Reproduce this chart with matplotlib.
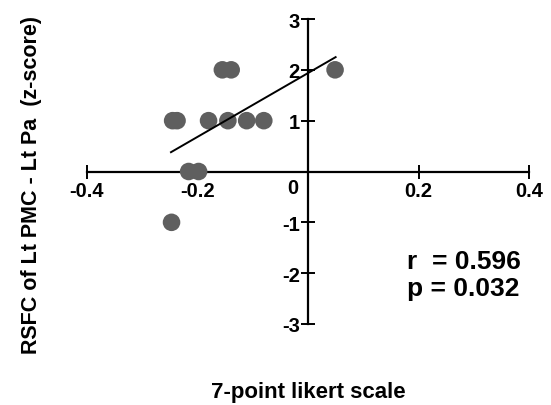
import matplotlib
matplotlib.use("Agg")
import matplotlib.pyplot as plt

plt.rcParams['font.family'] = ['Liberation Sans', 'DejaVu Sans']
plt.rcParams['font.weight'] = 'bold'

# Data
likert = [-0.155, -0.139, 0.049, -0.245, -0.237, -0.180, -0.145, -0.111, -0.080, -0.216, -0.198, -0.247]
rsfc = [2, 2, 2, 1, 1, 1, 1, 1, 1, 0, 0, -1]
fit_x = [-0.248, 0.050]
fit_y = [0.38, 2.25]
x_ticks = [-0.4, -0.2, 0.2, 0.4]
x_tick_labels = ['-0.4', '-0.2', '0.2', '0.4']
y_ticks = [-3, -2, -1, 1, 2, 3]
y_tick_labels = ['-3', '-2', '-1', '1', '2', '3']
stats_text = "r  = 0.596\np = 0.032"

fig = plt.figure(figsize=(5.51, 4.06), dpi=100)
W, H = 551, 406
x0, x1 = 87, 529
y_top, y_bot = 20, 325
ax = fig.add_axes([x0 / W, 1 - y_bot / H, (x1 - x0) / W, (y_bot - y_top) / H])
ax.set_xlim(-0.4, 0.4)
ax.set_ylim(-3, 3)

ax.scatter(likert, rsfc, s=160, color='#5f5f5f', edgecolors='none', zorder=3)
ax.plot(fit_x, fit_y, color='black', lw=1.4, zorder=4)

for s in ['top', 'right']:
    ax.spines[s].set_visible(False)
ax.spines['left'].set_position(('data', 0))
ax.spines['bottom'].set_position(('data', 0))
ax.spines['left'].set_linewidth(1.6)
ax.spines['bottom'].set_linewidth(1.6)

ax.set_xticks(x_ticks)
ax.set_xticklabels(x_tick_labels, fontsize=14.5, fontweight='bold')
ax.set_yticks(y_ticks)
ax.set_yticklabels(y_tick_labels, fontsize=14.5, fontweight='bold')
ax.tick_params(axis='both', direction='inout', length=10, width=1.4)
ax.tick_params(axis='x', pad=2)
ax.tick_params(axis='y', pad=1)
ax.text(-0.018, -0.12, '0', ha='right', va='top', fontsize=14.5, fontweight='bold')

fig.text(308 / W, 1 - 393 / H, '7-point likert scale', ha='center', va='center',
         fontsize=16, fontweight='bold')
fig.text(32 / W, 1 - 185 / H, 'RSFC of Lt PMC - Lt Pa  (z-score)', ha='center', va='center',
         rotation=90, fontsize=15.5, fontweight='bold')
fig.text(407 / W, 1 - 250 / H, stats_text, ha='left', va='top', fontsize=19,
         fontweight='bold', linespacing=1.15)

fig.savefig('out.png', dpi=100)
